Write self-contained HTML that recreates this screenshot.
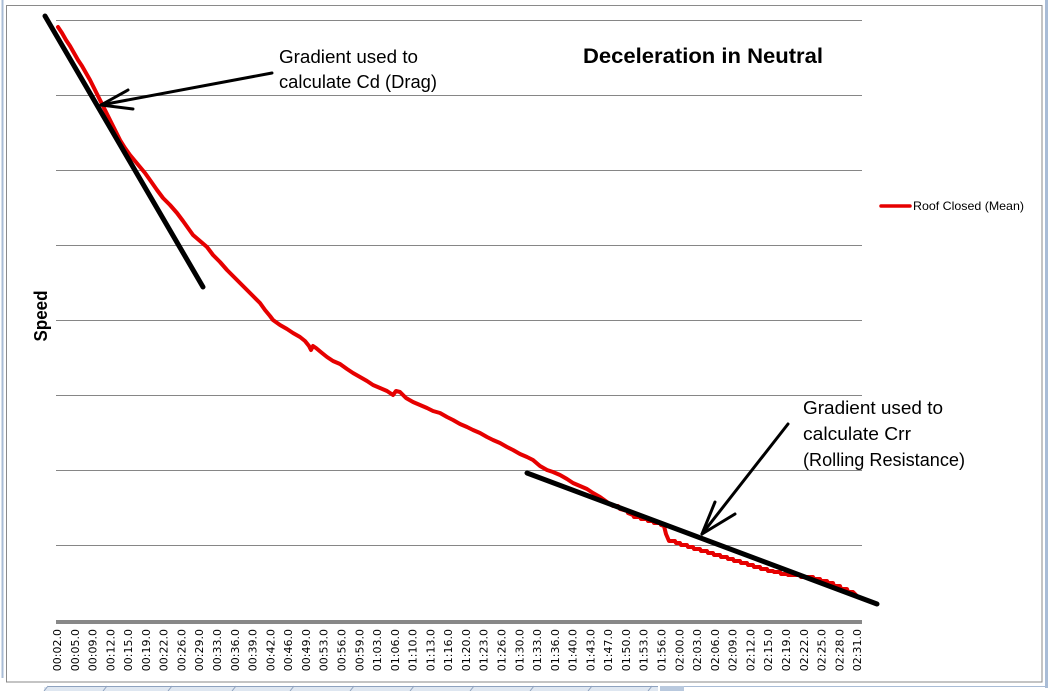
<!DOCTYPE html>
<html><head><meta charset="utf-8"><style>
html,body{margin:0;padding:0;background:#fff;}
svg{display:block;}
</style></head><body>
<svg width="1049" height="691" viewBox="0 0 1049 691" xmlns="http://www.w3.org/2000/svg">
<rect x="0" y="0" width="1049" height="691" fill="#fff"/>
<!-- outer window borders -->
<rect x="1.5" y="-2" width="2" height="680" fill="#a9bcd6"/>
<rect x="1045" y="-2" width="3" height="690" fill="#a9bcd6"/>
<!-- chart border -->
<rect x="6.5" y="5.5" width="1035.5" height="676.5" fill="none" stroke="#8a8a8a" stroke-width="1"/>
<!-- gridlines -->
<g stroke="#868686" stroke-width="1">
<line x1="56" y1="20.5" x2="862" y2="20.5"/>
<line x1="56" y1="95.5" x2="862" y2="95.5"/>
<line x1="56" y1="170.5" x2="862" y2="170.5"/>
<line x1="56" y1="245.5" x2="862" y2="245.5"/>
<line x1="56" y1="320.5" x2="862" y2="320.5"/>
<line x1="56" y1="395.5" x2="862" y2="395.5"/>
<line x1="56" y1="470.5" x2="862" y2="470.5"/>
<line x1="56" y1="545.5" x2="862" y2="545.5"/>
</g>
<rect x="56" y="620" width="806" height="4" fill="#888"/>
<!-- tick labels -->
<g font-family="'DejaVu Sans', sans-serif" font-size="11" fill="#000" text-anchor="end">
<text transform="translate(61,629) rotate(-90)">00:02.0</text>
<text transform="translate(78.8,629) rotate(-90)">00:05.0</text>
<text transform="translate(96.6,629) rotate(-90)">00:09.0</text>
<text transform="translate(114.3,629) rotate(-90)">00:12.0</text>
<text transform="translate(132.1,629) rotate(-90)">00:15.0</text>
<text transform="translate(149.9,629) rotate(-90)">00:19.0</text>
<text transform="translate(167.7,629) rotate(-90)">00:22.0</text>
<text transform="translate(185.5,629) rotate(-90)">00:26.0</text>
<text transform="translate(203.2,629) rotate(-90)">00:29.0</text>
<text transform="translate(221,629) rotate(-90)">00:33.0</text>
<text transform="translate(238.8,629) rotate(-90)">00:36.0</text>
<text transform="translate(256.6,629) rotate(-90)">00:39.0</text>
<text transform="translate(274.4,629) rotate(-90)">00:42.0</text>
<text transform="translate(292.1,629) rotate(-90)">00:46.0</text>
<text transform="translate(309.9,629) rotate(-90)">00:49.0</text>
<text transform="translate(327.7,629) rotate(-90)">00:53.0</text>
<text transform="translate(345.5,629) rotate(-90)">00:56.0</text>
<text transform="translate(363.3,629) rotate(-90)">00:59.0</text>
<text transform="translate(381,629) rotate(-90)">01:03.0</text>
<text transform="translate(398.8,629) rotate(-90)">01:06.0</text>
<text transform="translate(416.6,629) rotate(-90)">01:10.0</text>
<text transform="translate(434.4,629) rotate(-90)">01:13.0</text>
<text transform="translate(452.2,629) rotate(-90)">01:16.0</text>
<text transform="translate(469.9,629) rotate(-90)">01:20.0</text>
<text transform="translate(487.7,629) rotate(-90)">01:23.0</text>
<text transform="translate(505.5,629) rotate(-90)">01:26.0</text>
<text transform="translate(523.3,629) rotate(-90)">01:30.0</text>
<text transform="translate(541.1,629) rotate(-90)">01:33.0</text>
<text transform="translate(558.8,629) rotate(-90)">01:36.0</text>
<text transform="translate(576.6,629) rotate(-90)">01:40.0</text>
<text transform="translate(594.4,629) rotate(-90)">01:43.0</text>
<text transform="translate(612.2,629) rotate(-90)">01:47.0</text>
<text transform="translate(630,629) rotate(-90)">01:50.0</text>
<text transform="translate(647.7,629) rotate(-90)">01:53.0</text>
<text transform="translate(665.5,629) rotate(-90)">01:56.0</text>
<text transform="translate(683.3,629) rotate(-90)">02:00.0</text>
<text transform="translate(701.1,629) rotate(-90)">02:03.0</text>
<text transform="translate(718.9,629) rotate(-90)">02:06.0</text>
<text transform="translate(736.6,629) rotate(-90)">02:09.0</text>
<text transform="translate(754.4,629) rotate(-90)">02:12.0</text>
<text transform="translate(772.2,629) rotate(-90)">02:15.0</text>
<text transform="translate(790,629) rotate(-90)">02:19.0</text>
<text transform="translate(807.8,629) rotate(-90)">02:22.0</text>
<text transform="translate(825.5,629) rotate(-90)">02:25.0</text>
<text transform="translate(843.3,629) rotate(-90)">02:28.0</text>
<text transform="translate(861.1,629) rotate(-90)">02:31.0</text>
</g>
<!-- axis title -->
<text transform="translate(47,316) rotate(-90)" text-anchor="middle" font-family="'Liberation Sans', sans-serif" font-weight="bold" font-size="18" textLength="51" lengthAdjust="spacingAndGlyphs">Speed</text>
<!-- chart title -->
<text x="583" y="63" font-family="'Liberation Sans', sans-serif" font-weight="bold" font-size="21" textLength="240" lengthAdjust="spacingAndGlyphs">Deceleration in Neutral</text>
<!-- data series -->
<path fill="none" stroke="#e60000" stroke-width="4" stroke-linejoin="round" stroke-linecap="round" d="M58,27 L62,33 L66,40 L70,46 L74,53 L78,60 L82,66 L86,73 L90,80 L95,90 L100,100 L105,110 L110,120 L115,130 L120,140 L125,148 L130,155 L135,161 L140,167 L145,173 L150,180 L157,190 L163,198 L170,205 L177,213 L183,221 L188,228 L193,235 L200,241 L207,247 L213,255 L220,262 L227,270 L233,276 L240,283 L247,290 L253,296 L260,303 L265,310 L270,316 L273,320 L280,325 L287,329 L293,333 L300,337 L305,341 L309,346 L311,350 L313,346 L316,348 L322,353 L327,357 L333,361 L340,364 L347,369 L353,373 L360,377 L367,381 L373,385 L380,388 L387,391 L393,395 L396,391 L400,392 L406,398 L413,402 L420,405 L427,408 L433,411 L440,413 L447,417 L453,420 L460,424 L467,427 L473,430 L480,433 L487,437 L493,440 L500,443 L507,447 L513,450 L520,454 L527,457 L533,460 L540,466 L547,470 L553,472 L560,475 L567,479 L573,483 L580,486 L587,489 L593,493 L600,497 L607,502 L613,506 L618,506 L620,509 L627,511 L628,513 L633,515 L634,517 L640,517 L641,519 L647,519 L648,521 L653,521 L654,523 L660,523 L661,525 L664,526 L666,534 L669,541 L675,541 L676,543 L680,543 L681,545 L687,545 L688,547 L693,547 L694,549 L700,549 L701,551 L707,551 L708,553 L713,553 L714,555 L720,555 L721,557 L727,557 L728,559 L733,559 L734,561 L740,561 L741,563 L747,563 L748,565 L753,565 L754,567 L760,567 L761,569 L767,569 L768,571 L773,571 L774,572 L780,572 L781,574 L787,574 L788,575 L800,575 L801,577 L813,577 L814,579 L820,579 L821,581 L827,581 L828,583 L833,583 L834,586 L840,586 L841,589 L847,589 L848,592 L853,592 L858,597"/>
<!-- gradient lines -->
<g stroke="#000" stroke-linecap="round" fill="none">
<line x1="45" y1="16" x2="203" y2="287" stroke-width="5"/>
<line x1="527" y1="473" x2="877" y2="604" stroke-width="5"/>
<line x1="272" y1="73" x2="101" y2="105" stroke-width="3"/>
<line x1="101" y1="105" x2="128" y2="90" stroke-width="3"/>
<line x1="101" y1="105" x2="133" y2="109" stroke-width="3"/>
<line x1="788" y1="424" x2="702" y2="534" stroke-width="3"/>
<line x1="702" y1="534" x2="715" y2="502" stroke-width="3"/>
<line x1="702" y1="534" x2="735" y2="514" stroke-width="3"/>
</g>
<!-- annotations -->
<g font-family="'Liberation Sans', sans-serif" font-size="18.5" fill="#000">
<text x="279" y="63" textLength="139" lengthAdjust="spacingAndGlyphs">Gradient used to</text>
<text x="279" y="88" textLength="158" lengthAdjust="spacingAndGlyphs">calculate Cd (Drag)</text>
<text x="803" y="414" textLength="140" lengthAdjust="spacingAndGlyphs">Gradient used to</text>
<text x="803" y="440" textLength="108" lengthAdjust="spacingAndGlyphs">calculate Crr</text>
<text x="803" y="466" textLength="162" lengthAdjust="spacingAndGlyphs">(Rolling Resistance)</text>
</g>
<!-- legend -->
<line x1="881" y1="206" x2="910" y2="206" stroke="#e60000" stroke-width="3.5" stroke-linecap="round"/>
<text x="913" y="210" font-family="'Liberation Sans', sans-serif" font-size="12" textLength="111" lengthAdjust="spacingAndGlyphs">Roof Closed (Mean)</text>
<!-- sheet tabs -->
<g>
<rect x="44" y="687" width="614" height="4" fill="#dfe7f1"/>
<g stroke="#8ea2bf" stroke-width="1">
<line x1="44" y1="691" x2="48" y2="686"/>
<line x1="48" y1="686.5" x2="658" y2="686.5"/>
<line x1="103" y1="691" x2="107" y2="686"/>
<line x1="168" y1="691" x2="172" y2="686"/>
<line x1="232" y1="691" x2="236" y2="686"/>
<line x1="290" y1="691" x2="294" y2="686"/>
<line x1="350" y1="691" x2="354" y2="686"/>
<line x1="410" y1="691" x2="414" y2="686"/>
<line x1="470" y1="691" x2="474" y2="686"/>
<line x1="530" y1="691" x2="534" y2="686"/>
<line x1="588" y1="691" x2="592" y2="686"/>
<line x1="648" y1="691" x2="652" y2="686"/>
</g>
<rect x="660" y="686" width="24" height="5" fill="#b9c9de"/>
<line x1="684" y1="686.5" x2="1045" y2="686.5" stroke="#a9bcd6" stroke-width="1"/>
</g>
</svg>
</body></html>
